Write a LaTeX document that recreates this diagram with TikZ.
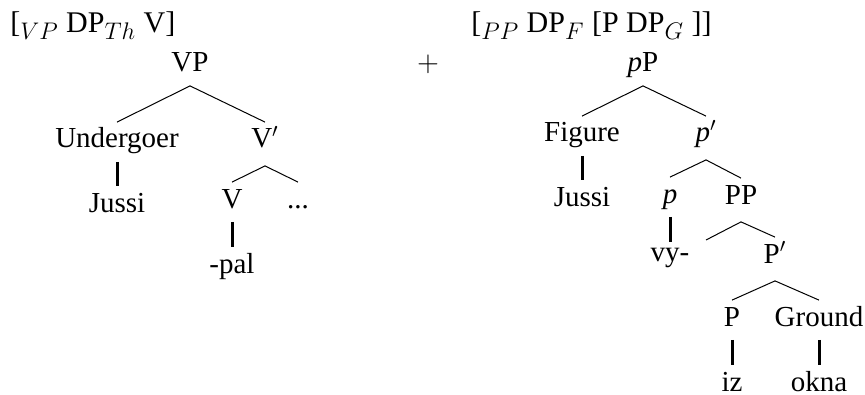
\documentclass[tikz,border=0pt]{standalone}
\usepackage{fontspec}
\setmainfont{Liberation Serif}
\DeclareMathSizes{15}{15}{11.5}{8.5}
\usepackage{tikz}
\tikzset{
  lab/.style={anchor=base, inner sep=2.5pt, text height=10.25pt, text depth=4.25pt,
              font=\fontsize{14.5}{17}\selectfont},
  mid/.style={lab, text depth=6.25pt},
  head/.style={anchor=base west, inner sep=0pt, font=\fontsize{15}{18}\selectfont},
  branch/.style={line width=0.5pt},
  stem/.style={line width=1.5pt}
}

\begin{document}
\begin{tikzpicture}[x=0.5pt, y=-0.5pt]
    \useasboundingbox (0,0) rectangle (865,395);
    \node[head] (hl) at (10,33) {[$_{VP}$ DP$_{Th}$ V]};
    \node[lab] (vp) at (190,72) {VP};
    \node[lab] (plus) at (428,72) {$+$};
    \node[lab] (und) at (117,148) {Undergoer};
    \node[mid] (vbar) at (265,148) {V$'$};
    \node[lab] (jl) at (117,212) {Jussi};
    \node[lab] (v) at (232,208) {V};
    \node[lab] (dots) at (298,208) {...};
    \node[lab] (pal) at (232,273) {-pal};
    \draw[branch] (vp.south) -- (und.north);
    \draw[branch] (vp.south) -- (vbar.north);
    \draw[stem] (und.south) -- (jl.north);
    \draw[branch] (vbar.south) -- (v.north);
    \draw[branch] (vbar.south) -- (dots.north);
    \draw[stem] (v.south) -- (pal.north);

    \node[head] (hr) at (471,33) {[$_{PP}$ DP$_F$ [P DP$_G$ ]]};
    \node[lab] (lp) at (643,72) {\textit{p}P};
    \node[lab] (fig) at (582,142) {Figure};
    \node[mid] (pbar) at (706,142) {\textit{p}$'$};
    \node[lab] (jr) at (582,206) {Jussi};
    \node[lab] (sp) at (670,203) {\textit{p}};
    \node[mid] (pp) at (741,204) {PP};
    \coordinate (pe) at (706,240);
    \node[lab, text height=6.8pt] (vy) at (670,261) {vy-};
    \node[mid] (pbar2) at (775,263) {P$'$};
    \node[lab] (bp) at (732,326) {P};
    \node[lab] (gr) at (819,326) {Ground};
    \node[lab] (iz) at (732,391) {iz};
    \node[lab] (okna) at (819,391) {okna};
    \draw[branch] (lp.south) -- (fig.north);
    \draw[branch] (lp.south) -- (pbar.north);
    \draw[stem] (fig.south) -- (jr.north);
    \draw[branch] (pbar.south) -- (sp.north);
    \draw[branch] (pbar.south) -- (pp.north);
    \draw[stem] (sp.south) -- (vy.north);
    \draw[branch] (pp.south) -- (pe);
    \draw[branch] (pp.south) -- (pbar2.north);
    \draw[branch] (pbar2.south) -- (bp.north);
    \draw[branch] (pbar2.south) -- (gr.north);
    \draw[stem] (bp.south) -- (iz.north);
    \draw[stem] (gr.south) -- (okna.north);
\end{tikzpicture}
\end{document}
